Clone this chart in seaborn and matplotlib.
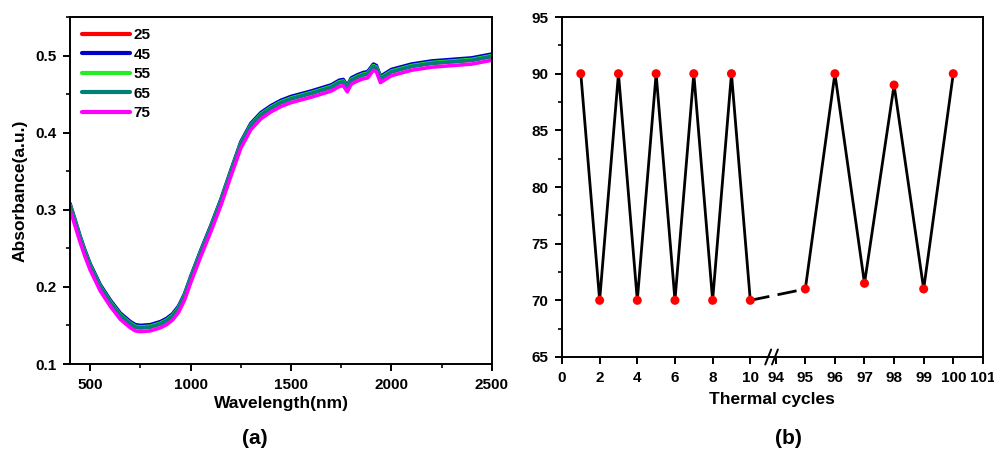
import numpy as np
import pandas as pd
import matplotlib
matplotlib.use("Agg")
import matplotlib.pyplot as plt
import seaborn as sns
from matplotlib.ticker import MultipleLocator, FixedLocator

# ---- panel (a): absorbance spectra at several temperatures ----
temps = ["25", "45", "55", "65", "75"]
temp_colors = ["#ff0000", "#0000c8", "#22ee22", "#007f78", "#ff00ff"]
temp_shift = [0.0, 0.003, 0.001, 0.0, -0.005]

wavelength = [400, 425, 450, 475, 500, 550, 600, 650, 700, 725, 750, 800, 850,
              880, 910, 940, 970, 1000, 1050, 1100, 1150, 1200, 1250, 1300,
              1350, 1400, 1450, 1500, 1600, 1700, 1740, 1760, 1780, 1800, 1830,
              1860, 1880, 1890, 1910, 1925, 1945, 2000, 2100, 2200, 2300, 2400,
              2500]
absorbance = [0.305, 0.284, 0.263, 0.244, 0.227, 0.200, 0.180, 0.163, 0.152,
              0.148, 0.147, 0.148, 0.152, 0.156, 0.162, 0.172, 0.188, 0.210,
              0.244, 0.276, 0.310, 0.348, 0.385, 0.409, 0.423, 0.432, 0.439,
              0.444, 0.451, 0.459, 0.465, 0.466, 0.458, 0.468, 0.472, 0.475,
              0.476, 0.479, 0.486, 0.484, 0.470, 0.479, 0.486, 0.490, 0.492,
              0.494, 0.499]

# ---- panel (b): thermal cycling ----
cycles = [1, 2, 3, 4, 5, 6, 7, 8, 9, 10, 95, 96, 97, 98, 99, 100]
cycle_values = [90, 70, 90, 70, 90, 70, 90, 70, 90, 70, 71, 90, 71.5, 89, 71, 90]
cycle_ticks = [0, 2, 4, 6, 8, 10, 94, 95, 96, 97, 98, 99, 100, 101]

sns.set_style("ticks")
plt.rcParams["font.family"] = ["Liberation Sans", "DejaVu Sans"]
plt.rcParams["font.weight"] = "bold"
plt.rcParams["axes.labelweight"] = "bold"
plt.rcParams["axes.linewidth"] = 1.4
for key in ("text.color", "axes.labelcolor", "xtick.color", "ytick.color",
            "axes.edgecolor"):
    plt.rcParams[key] = "black"

fig = plt.figure(figsize=(9.95, 4.55), dpi=100)
ax1 = fig.add_axes([0.0704, 0.2, 0.424, 0.7626])
ax2 = fig.add_axes([0.5648, 0.2154, 0.423, 0.7472])

rows = []
for t, shift in zip(temps, temp_shift):
    for w, a in zip(wavelength, absorbance):
        rows.append({"wavelength": w, "absorbance": a + shift, "temp": t})
df = pd.DataFrame(rows)

sns.lineplot(data=df, x="wavelength", y="absorbance", hue="temp",
             palette=dict(zip(temps, temp_colors)), lw=2.6, sort=False,
             estimator=None, ax=ax1)
ax1.set_xlim(400, 2500)
ax1.set_ylim(0.1, 0.55)
ax1.xaxis.set_major_locator(FixedLocator([500, 1000, 1500, 2000, 2500]))
ax1.xaxis.set_minor_locator(MultipleLocator(250))
ax1.yaxis.set_major_locator(FixedLocator([0.1, 0.2, 0.3, 0.4, 0.5]))
ax1.yaxis.set_minor_locator(MultipleLocator(0.05))
ax1.set_xlabel("Wavelength(nm)", fontsize=12.5, labelpad=3)
ax1.set_ylabel("Absorbance(a.u.)", fontsize=12.5, labelpad=5)
leg = ax1.legend(frameon=False, loc="upper left", handlelength=3.2,
                 fontsize=11, labelspacing=0.35, handletextpad=0.2,
                 borderaxespad=0.35, bbox_to_anchor=(0.0, 1.0))
for line in leg.get_lines():
    line.set_linewidth(3)

# broken x axis for panel (b): squeeze the 10..94 gap
knots_in = [-100, 0, 10, 94, 101, 300]
knots_out = [-100, 0, 10, 11.35, 22.35, 22.35 + 199 * 1.5714]


def fwd(x):
    return np.interp(x, knots_in, knots_out)


def inv(p):
    return np.interp(p, knots_out, knots_in)


ax2.set_xscale("function", functions=(fwd, inv))
sns.lineplot(x=cycles[:10], y=cycle_values[:10], color="black", lw=2.0,
             sort=False, estimator=None, ax=ax2)
sns.lineplot(x=cycles[9:11], y=cycle_values[9:11], color="black", lw=2.0,
             sort=False, estimator=None, linestyle=(0, (7, 3)), ax=ax2)
sns.lineplot(x=cycles[10:], y=cycle_values[10:], color="black", lw=2.0,
             sort=False, estimator=None, ax=ax2)
sns.scatterplot(x=cycles, y=cycle_values, color="#ff0000", s=42,
                edgecolor="none", zorder=3, ax=ax2)
ax2.set_xlim(0, 101)
ax2.set_ylim(65, 95)
ax2.xaxis.set_major_locator(FixedLocator(cycle_ticks))
ax2.set_xticklabels([str(c) for c in cycle_ticks])
ax2.xaxis.set_minor_locator(FixedLocator([]))
ax2.yaxis.set_major_locator(MultipleLocator(5))
ax2.yaxis.set_minor_locator(MultipleLocator(2.5))
ax2.set_xlabel("Thermal cycles", fontsize=12.5, labelpad=5)
ax2.set_ylabel("")

# break marks on the bottom spine
for xc in (0.490, 0.506):
    ax2.plot([xc - 0.007, xc + 0.007], [-0.022, 0.022], color="black", lw=1.4,
             transform=ax2.transAxes, clip_on=False)

for ax in (ax1, ax2):
    ax.tick_params(which="major", direction="out", length=5, width=1.4,
                   labelsize=11, pad=5)
    ax.tick_params(which="minor", direction="out", length=3, width=1.2)
    for sp in ax.spines.values():
        sp.set_visible(True)
        sp.set_color("black")

fig.text(0.256, 0.025, "(a)", ha="center", fontsize=15, fontweight="bold")
fig.text(0.792, 0.025, "(b)", ha="center", fontsize=15, fontweight="bold")

fig.savefig("out.png", dpi=100)
